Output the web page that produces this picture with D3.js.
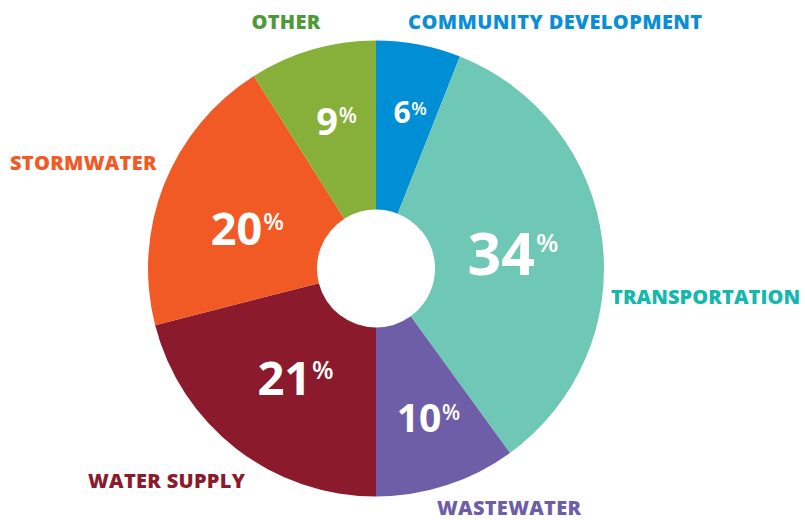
<!DOCTYPE html>
<html>
<head>
<meta charset="utf-8">
<script src="https://cdn.jsdelivr.net/npm/d3@7"></script>
<style>
html,body{margin:0;padding:0;background:#fff;}
svg{display:block;}
</style>
</head>
<body>
<svg id="chart" width="805" height="520"></svg>
<script>
// Data
const categories = ["COMMUNITY DEVELOPMENT","TRANSPORTATION","WASTEWATER","WATER SUPPLY","STORMWATER","OTHER"];
const values = [6, 34, 10, 21, 20, 9];
const sliceColors = ["#008fd5","#6fc7b5","#6e5ea7","#8b1a2d","#f15a25","#87b03a"];
const labelColors = ["#0a8fd6","#14b8ad","#6e5ea7","#8b1a2d","#f15a25","#4e9a3b"];

// Layout / style (not data)
const W = 805, H = 520, cx = 376, cy = 268.5, R = 228, r0 = 59;
// percent label: radius, angle offset (deg), digit font size, % font size
const pctStyle = [
  {rad:158, off:-1.3, fs:30, ps:18},
  {rad:126, off:0.6,  fs:59, ps:26},
  {rad:156, off:2,    fs:39, ps:21},
  {rad:143, off:2.1,  fs:47, ps:25},
  {rad:145, off:-5.8, fs:45, ps:24},
  {rad:155, off:-2.2, fs:38, ps:21}
];
// category label anchor positions
const catPos = [
  {x:408, y:29,  anchor:"start", ls:0.4},
  {x:611, y:304, anchor:"start", ls:0.1},
  {x:437, y:515, anchor:"start", ls:0.3},
  {x:88,  y:488, anchor:"start", ls:0.3},
  {x:10,  y:170, anchor:"start", ls:0.3},
  {x:286, y:29,  anchor:"middle", ls:0.3}
];

const svg = d3.select("#chart");
const g = svg.append("g").attr("transform", `translate(${cx},${cy})`);

const pie = d3.pie().value(d => d).sort(null);
const arcs = pie(values);
const arc = d3.arc().innerRadius(r0).outerRadius(R);

g.selectAll("path.slice").data(arcs).join("path")
  .attr("class","slice")
  .attr("d", arc)
  .attr("fill", (d,i) => sliceColors[i]);

const font = "'Open Sans', sans-serif";

arcs.forEach((d,i) => {
  const s = pctStyle[i];
  const a = (d.startAngle + d.endAngle)/2 + s.off*Math.PI/180;
  const x = Math.sin(a)*s.rad, y = -Math.cos(a)*s.rad;
  const t = g.append("text")
    .attr("x", x).attr("y", y + 0.357*s.fs)
    .attr("text-anchor","middle")
    .attr("font-family", font).attr("font-weight", 700)
    .attr("font-size", s.fs).attr("fill","#fff")
    .text(values[i]);
  const w = t.node().getComputedTextLength();
  g.append("text")
    .attr("x", x + w/2 + s.fs*0.02)
    .attr("y", y - 0.357*s.fs + 0.72*s.ps)
    .attr("font-family", font).attr("font-weight", 600)
    .attr("font-size", s.ps).attr("fill","#fff")
    .text("%");
});

svg.selectAll("text.cat").data(categories).join("text")
  .attr("class","cat")
  .attr("x",(d,i)=>catPos[i].x).attr("y",(d,i)=>catPos[i].y)
  .attr("text-anchor",(d,i)=>catPos[i].anchor)
  .attr("font-family", font).attr("font-weight", 800)
  .attr("font-size", 20)
  .attr("letter-spacing",(d,i)=>catPos[i].ls)
  .attr("fill",(d,i)=>labelColors[i])
  .text(d=>d);
</script>
</body>
</html>
